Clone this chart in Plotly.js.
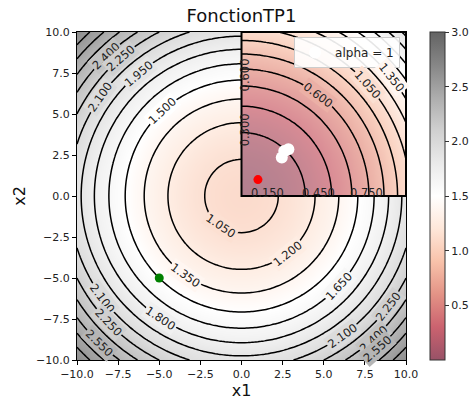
<!DOCTYPE html>
<html>
<head>
<meta charset="utf-8">
<script src="https://cdn.plot.ly/plotly-3.0.1.min.js"></script>
<style>html,body{margin:0;padding:0;background:#fff;}#chart{width:475px;height:403px;}</style>
</head>
<body>
<div id="chart"></div>
<script>
// ---- data ----
// FonctionTP1 surface: f(x1,x2) = base + (x1^2 + x2^2) / scale  (circles centred at origin)
const fBase = 1.0;          // value at the centre
const fScale = 100;         // f = 2 at r = 10, f = 3 at the corners
// inset (upper-right quadrant) surface: g = base + (x1^2 + x2^2) / scale
const gBase = 0.0;
const gScale = 100;
const mainRange = [-10, 10];
const insetRange = [0, 10];
const mainLevels = {start: 1.05, end: 2.85, size: 0.15};
const insetLevels = {start: 0.15, end: 1.95, size: 0.15};
// labelled contour levels (main plot) and the inset
const mainLabelLevels = [2.40, 2.25, 2.10, 1.95, 1.50, 1.05, 1.35, 1.80, 2.10, 2.25, 2.55, 1.20, 1.65, 2.10, 2.25, 2.40, 2.55];
const insetLabelLevels = [0.60, 1.05, 1.35];
// points
const redPoint = {x: [1], y: [1]};
const greenPoint = {x: [-5], y: [-5]};
const whitePts = {x: [2.45, 2.85, 2.6], y: [2.35, 2.85, 2.75]};
const legendLabel = 'alpha = 1';
// inset edge labels
const insetBottomLabels = ['0.150', '0.450', '0.750'];
const insetLeftLabels = ['0.300', '0.600'];
// colour map (RdGy) and ticks
const rdgy = ['#67001f','#b2182b','#d6604d','#f4a582','#fddbc7','#ffffff','#e0e0e0','#bababa','#878787','#4d4d4d','#1a1a1a'];
const cbTicks = [0.5, 1.0, 1.5, 2.0, 2.5, 3.0];
const axisTicks = [-10, -7.5, -5, -2.5, 0, 2.5, 5, 7.5, 10];

// ---- layout-only positions (polar angle, degrees, of each label on its circle) ----
const mainLabelAngles = [134, 131, 145, 130, 133, 236, 234.6, 236.4, 216.6, 223.5, 226, 308.3, 317.3, 305.7, 322.8, 312.7, 311.5];
const insetLabelAngles = [53, 41.4, 38.5];
const insetBottomX = [1.6, 4.7, 7.6];
const insetLeftY = [4.05, 7.4];

function hexRgb(hex) { return [parseInt(hex.slice(1,3),16), parseInt(hex.slice(3,5),16), parseInt(hex.slice(5,7),16)]; }
function mix(rgb, a) { return rgb.map(v => Math.round(v*a + 255*(1-a))); }
function css(rgb) { return 'rgb(' + rgb.join(',') + ')'; }
function scale(a) { return rdgy.map((c,i) => [i/(rdgy.length-1), css(mix(hexRgb(c), a))]); }
function colorAt(v, a) {
  let t = Math.max(0, Math.min(1, v/3)) * (rdgy.length-1);
  const i = Math.min(rdgy.length-2, Math.floor(t)); const f = t - i;
  const c0 = hexRgb(rdgy[i]), c1 = hexRgb(rdgy[i+1]);
  return css(mix(c0.map((v0,k) => v0 + (c1[k]-v0)*f), a));
}

function grid(lo, hi, n) { const a = []; for (let i = 0; i <= n; i++) a.push(lo + (hi-lo)*i/n); return a; }
const gx = grid(mainRange[0], mainRange[1], 100);
const gy = grid(mainRange[0], mainRange[1], 100);
const zMain = gy.map(y => gx.map(x => fBase + (x*x + y*y)/fScale));
const ix = grid(insetRange[0], insetRange[1], 60);
const iy = grid(insetRange[0], insetRange[1], 60);
const zInset = iy.map(y => ix.map(x => gBase + (x*x + y*y)/gScale));

const lblFont = {family: 'DejaVu Sans', size: 11.5, color: '#222'};

const traces = [
  {type: 'contour', x: gx, y: gy, z: zMain, zmin: 0, zmax: 3, zauto: false,
   colorscale: scale(0.5), showscale: false, hoverinfo: 'skip',
   contours: {start: mainLevels.start, end: mainLevels.end, size: mainLevels.size, coloring: 'heatmap', showlabels: false},
   line: {color: 'black', width: 1.5}},
  {type: 'contour', x: ix, y: iy, z: zInset, zmin: 0, zmax: 3, zauto: false,
   colorscale: scale(0.5), showscale: false, hoverinfo: 'skip',
   contours: {start: insetLevels.start, end: insetLevels.end, size: insetLevels.size, coloring: 'heatmap', showlabels: false},
   line: {color: 'black', width: 1.5}},
  {type: 'scatter', mode: 'markers', x: whitePts.x, y: whitePts.y, name: legendLabel,
   marker: {color: 'white', size: 12}, showlegend: true},
  {type: 'scatter', mode: 'markers', x: redPoint.x, y: redPoint.y, showlegend: false,
   marker: {color: 'red', size: 9}},
  {type: 'scatter', mode: 'markers', x: greenPoint.x, y: greenPoint.y, showlegend: false,
   marker: {color: 'green', size: 9}},
  {type: 'scatter', mode: 'markers', x: [0], y: [0], showlegend: false, hoverinfo: 'skip',
   marker: {size: 1, opacity: 0, color: [1.5], cmin: 0, cmax: 3, colorscale: scale(0.68), showscale: true,
            colorbar: {x: 1.073, xanchor: 'left', xpad: 0, ypad: 0, thickness: 15, len: 1, lenmode: 'fraction',
                       y: 0.5, yanchor: 'middle', outlinewidth: 1, outlinecolor: '#333',
                       tickvals: cbTicks, ticktext: cbTicks.map(v => v.toFixed(1)), ticks: 'outside', ticklen: 4,
                       tickcolor: '#333', tickfont: {family: 'DejaVu Sans', size: 11, color: '#222'}}}}
];

function circleLabel(level, thetaDeg, base, sc, txt) {
  const r = Math.sqrt((level - base) * sc);
  const th = thetaDeg * Math.PI / 180;
  let a = thetaDeg + 90;
  while (a > 90) a -= 180;
  while (a <= -90) a += 180;
  return {x: r*Math.cos(th), y: r*Math.sin(th), text: txt, showarrow: false, textangle: -a,
          font: lblFont, bgcolor: colorAt(level, 0.5), borderpad: 1, xanchor: 'center', yanchor: 'middle'};
}

const annotations = [];
mainLabelLevels.forEach((lv, i) => annotations.push(circleLabel(lv, mainLabelAngles[i], fBase, fScale, lv.toFixed(3))));
insetLabelLevels.forEach((lv, i) => annotations.push(circleLabel(lv, insetLabelAngles[i], gBase, gScale, lv.toFixed(3))));
insetBottomLabels.forEach((t, i) => annotations.push({x: insetBottomX[i], y: 0.2, text: t, showarrow: false,
  font: lblFont, xanchor: 'center', yanchor: 'middle'}));
insetLeftLabels.forEach((t, i) => annotations.push({x: 0.2, y: insetLeftY[i], text: t, showarrow: false,
  font: lblFont, textangle: -90, xanchor: 'center', yanchor: 'middle'}));

const axCommon = {showgrid: false, zeroline: false, showline: true, mirror: true, linecolor: 'black', linewidth: 1,
  ticks: 'outside', ticklen: 4, tickcolor: 'black', tickvals: axisTicks,
  ticktext: axisTicks.map(v => (v < 0 ? '\u2212' : '') + Math.abs(v).toFixed(1)),
  tickfont: {family: 'DejaVu Sans', size: 11, color: '#222'}};

const layout = {
  width: 475, height: 403,
  margin: {l: 77, r: 69, t: 32, b: 43, autoexpand: false},
  paper_bgcolor: 'white', plot_bgcolor: 'white',
  title: {text: 'FonctionTP1', font: {family: 'DejaVu Sans', size: 18, color: '#111'},
          x: 0.5, xref: 'paper', y: 1 - 16/403, yref: 'container', yanchor: 'middle'},
  xaxis: Object.assign({}, axCommon, {range: mainRange, title: {text: 'x1', standoff: 2, font: {family: 'DejaVu Sans', size: 16, color: '#111'}}}),
  yaxis: Object.assign({}, axCommon, {range: mainRange, title: {text: 'x2', standoff: 6, font: {family: 'DejaVu Sans', size: 16, color: '#111'}}}),
  legend: {x: 0.982, xanchor: 'right', y: 0.985, yanchor: 'top', bgcolor: 'rgba(255,255,255,0.9)',
           bordercolor: '#ccc', borderwidth: 1, font: {family: 'DejaVu Sans', size: 12, color: '#222'}},
  shapes: [{type: 'rect', xref: 'x', yref: 'y', x0: insetRange[0], y0: insetRange[0], x1: insetRange[1], y1: insetRange[1],
            line: {color: 'black', width: 2}}],
  annotations: annotations
};

Plotly.newPlot('chart', traces, layout, {displayModeBar: false, staticPlot: true});
</script>
</body>
</html>
